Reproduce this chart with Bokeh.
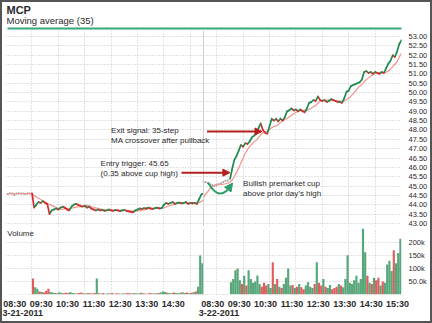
import numpy as np
import pandas as pd
from bokeh.plotting import figure
from bokeh.layouts import column
from bokeh.models import (Range1d, FixedTicker, LinearAxis, Label, Span, Arrow,
                          NormalHead, NumeralTickFormatter)
from bokeh.embed import file_html
from bokeh.resources import INLINE

# ---------------- data ----------------
symbol = "MCP"
study = "Moving average (35)"
dates = ["3-21-2011", "3-22-2011"]
day1_hour_labels = ["08:30", "09:30", "10:30", "11:30", "12:30", "13:30", "14:30"]
day2_hour_labels = ["08:30", "09:30", "10:30", "11:30", "12:30", "13:30", "14:30", "15:30"]
price_ticks = [43.0, 43.5, 44.0, 44.5, 45.0, 45.5, 46.0, 46.5, 47.0, 47.5, 48.0,
               48.5, 49.0, 49.5, 50.0, 50.5, 51.0, 51.5, 52.0, 52.5, 53.0]
volume_ticks = [50, 100, 150, 200]                    # thousands of shares
volume_tick_labels = ["50.0k", "100k", "150k", "200k"]
ma_window = 7                                         # 35 minutes of 5-minute bars

# pre-market prices (5-minute steps)
pre1_price = [44.58, 44.62, 44.60, 44.52, 44.60, 44.62, 44.60, 44.60, 44.58, 44.62, 44.60]
pre2_price = [45.22, 45.20, 45.15, 45.10, 45.05, 45.02, 45.05, 45.10, 45.15, 45.22, 45.28, 45.30]
pre1_vol = [1, 1, 2, 1, 1, 1, 2, 1, 1, 1, 2]
pre2_vol = [2, 1, 2, 1, 2, 1, 1, 2, 1, 2, 1, 2]

# session: first print at 09:30, then 5-minute closes to 16:00
day1_price = [44.65,
              43.85, 44.00, 44.15, 44.10, 44.20, 44.10, 44.05, 43.50, 43.70, 43.75,
              43.80, 43.75, 43.85, 43.90, 43.85, 43.75, 43.70, 43.90, 44.00, 44.05,
              44.00, 43.95, 43.90, 43.95, 43.85, 43.90, 43.80, 43.75, 43.70, 43.75,
              43.70, 43.72, 43.68, 43.70, 43.75, 43.70, 43.68, 43.72, 43.70, 43.66,
              43.70, 43.72, 43.68, 43.65, 43.62, 43.60, 43.70, 43.75, 43.80, 43.78,
              43.82, 43.80, 43.85, 43.80, 43.78, 43.82, 43.85, 43.80, 43.82, 44.00,
              44.10, 44.05, 44.10, 44.15, 44.05, 44.10, 44.12, 44.08, 44.10, 44.15,
              44.05, 44.10, 44.08, 44.10, 44.05, 44.30, 44.55, 44.60]
day2_price = [45.35,
              45.90, 46.40, 46.60, 46.90, 47.20, 47.10, 47.30, 47.25, 47.40, 47.60,
              47.70, 47.80, 48.10, 48.35, 48.00, 47.85, 47.80, 48.20, 48.60, 48.50,
              48.60, 48.45, 48.60, 48.50, 48.70, 49.00, 49.05, 49.15, 49.05, 49.10,
              49.00, 49.10, 49.00, 48.95, 49.15, 49.45, 49.50, 49.60, 49.55, 49.80,
              49.60, 49.55, 49.60, 49.50, 49.55, 49.65, 49.60, 49.55, 49.50, 49.50,
              49.45, 49.70, 50.05, 50.10, 50.35, 50.40, 50.45, 50.50, 50.55, 50.70,
              51.10, 51.15, 51.05, 51.10, 51.00, 51.10, 51.05, 51.00, 51.10, 51.05,
              51.30, 51.55, 51.70, 52.00, 51.90, 52.20, 52.60, 52.80]
day1_vol = [62, 28, 22, 12, 10, 8, 14, 22, 10, 8, 6, 5, 9, 6, 5, 7, 6, 10, 6, 5,
            4, 6, 8, 5, 4, 6, 5, 4, 6, 62, 5, 4, 6, 3, 5, 4, 6, 3, 5, 4,
            3, 5, 4, 6, 5, 4, 6, 5, 4, 7, 5, 4, 3, 6, 5, 4, 5, 6, 8, 12,
            10, 7, 6, 5, 8, 6, 5, 7, 9, 6, 8, 5, 7, 9, 12, 30, 150, 120]
day2_vol = [47, 60, 93, 100, 55, 40, 72, 35, 93, 60, 45, 50, 73, 40, 30, 45, 35, 40, 25, 124,
            40, 60, 30, 25, 40, 64, 100, 35, 37, 25, 30, 40, 28, 20, 35, 47, 30, 25, 40, 124,
            45, 35, 60, 30, 25, 37, 20, 25, 30, 40, 35, 28, 60, 151, 45, 40, 55, 72, 45, 60,
            256, 163, 72, 45, 40, 64, 55, 64, 35, 50, 45, 115, 130, 90, 170, 120, 160, 215]

# ---------------- styling ----------------
FONT = "'Liberation Sans Narrow', 'Arial Narrow', 'Liberation Sans', Arial, sans-serif"
GREEN = "#1f8a4f"
RED = "#d42a2a"
MA_COLOR = "#f2948c"
GRID = "#c4c4c4"
TXT = "#2a2a2a"

# x is minutes since 08:30 on day 1; each day shows 08:30-16:00 (450 min)
DAY = 450
pre1_t = 5 + 5 * np.arange(len(pre1_price))
pre2_t = DAY + 5 * np.arange(len(pre2_price))
d1_t = 60 + 5 * np.arange(len(day1_price))
d2_t = DAY + 60 + 5 * np.arange(len(day2_price))

W = 428
LB, RB = 3, 28          # left / right borders shared by all panels (frames align)

# ---------------- header ----------------
# x range in page pixels of the (aligned) frame: page 5 .. 402
p0 = figure(width=W, height=28, x_range=Range1d(5, 402), y_range=Range1d(0, 28), title=None,
            output_backend="svg", toolbar_location=None,
            min_border_left=LB, min_border_right=RB, min_border_top=0, min_border_bottom=0,
            x_axis_location=None, y_axis_location=None)
p0.grid.visible = False
p0.outline_line_color = None
p0.add_layout(Label(x=6, y=27, text=symbol, text_font=FONT, text_font_size="11px",
                    text_font_style="bold", text_color=TXT, text_baseline="top"))
p0.add_layout(Label(x=6, y=15.5, text=study, text_font=FONT, text_font_size="9.5px",
                    text_color=TXT, text_baseline="top"))
p0.add_layout(Arrow(x_start=7, y_start=2, x_end=418, y_end=2, start=None, end=None,
                    line_color="#3aa77a", line_width=2))

# ---------------- price panel ----------------
p1 = figure(width=W, height=198, x_range=Range1d(0, 2 * DAY), y_range=Range1d(42.84, 53.32),
            title=None, y_axis_location="right", x_axis_location=None,
            output_backend="svg", toolbar_location=None,
            min_border_left=LB, min_border_right=RB, min_border_top=0, min_border_bottom=2)
p1.outline_line_color = None
grid_ticks = [60 * i for i in range(16)]
p1.xgrid.ticker = FixedTicker(ticks=grid_ticks)
p1.ygrid.ticker = FixedTicker(ticks=price_ticks)
for g in (p1.xgrid, p1.ygrid):
    g.grid_line_color = GRID
    g.grid_line_dash = "1 2"
p1.add_layout(Span(location=DAY, dimension="height", line_color="#d0d0d0", line_width=1))

ya = p1.yaxis[0]
ya.ticker = FixedTicker(ticks=price_ticks)
ya.formatter = NumeralTickFormatter(format="0.00")
ya.axis_line_color = None
ya.major_tick_line_color = None
ya.minor_tick_line_color = None
ya.major_label_standoff = 1
ya.major_label_text_font = FONT
ya.major_label_text_font_size = "7.5px"
ya.major_label_text_color = TXT

# pre-market prints
p1.scatter(np.concatenate([pre1_t, pre2_t]), pre1_price + pre2_price,
           size=2, color="#9a9a9a", line_color=None)

# moving average over all prints
all_t = np.concatenate([pre1_t, d1_t, pre2_t, d2_t])
all_p = pd.Series(pre1_price + day1_price + pre2_price + day2_price, dtype=float)
ma = all_p.rolling(ma_window, min_periods=1).mean()
p1.line(all_t, ma, line_color=MA_COLOR, line_width=1.2)

# price bars as up/down strokes
for t, pr in ((d1_t, day1_price), (d2_t, day2_price)):
    pr = np.asarray(pr)
    col = np.where(pr[1:] >= pr[:-1], GREEN, RED)
    p1.segment(x0=t[:-1], y0=pr[:-1], x1=t[1:], y1=pr[1:], line_color=col, line_width=1.7)
    p1.segment(x0=t[1:], y0=pr[1:] - 0.05, x1=t[1:], y1=pr[1:] + 0.05, line_color=col, line_width=1.2)

# annotations
ANN = "#b3201f"
p1.add_layout(Arrow(x_start=458, y_start=47.92, x_end=583, y_end=47.92,
                    line_color=ANN, line_width=2,
                    end=NormalHead(size=7, fill_color=ANN, line_color=ANN)))
p1.add_layout(Arrow(x_start=400, y_start=45.72, x_end=510, y_end=45.72,
                    line_color=ANN, line_width=2,
                    end=NormalHead(size=7, fill_color=ANN, line_color=ANN)))
CUP = "#2f9e6c"
p1.quadratic(x0=[460], y0=[45.19], x1=[514], y1=[45.09], cx=[487], cy=[44.07],
             line_color=CUP, line_width=2)
p1.add_layout(Arrow(x_start=511, y_start=45.0, x_end=516, y_end=45.16,
                    line_color=CUP, line_width=1, line_alpha=0,
                    end=NormalHead(size=8, fill_color=CUP, line_color=CUP)))

def note(x, y, s):
    p1.add_layout(Label(x=x, y=y, text=s, text_font=FONT, text_font_size="8px",
                        text_color=TXT, text_baseline="middle"))

note(240, 47.97, "Exit signal: 35-step")
note(240, 47.44, "MA crossover after pullback")
note(216, 46.21, "Entry trigger: 45.65")
note(216, 45.67, "(0.35 above cup high)")
note(540, 45.14, "Bullish premarket cup")
note(540, 44.60, "above prior day\u2019s high")

# ---------------- volume panel ----------------
p2 = figure(width=W, height=93, x_range=p1.x_range, y_range=Range1d(0, 254), title=None,
            y_axis_location="right", x_axis_location=None,
            output_backend="svg", toolbar_location=None,
            min_border_left=LB, min_border_right=RB, min_border_top=0, min_border_bottom=27)
p2.outline_line_color = None
p2.xgrid.ticker = FixedTicker(ticks=grid_ticks)
p2.ygrid.ticker = FixedTicker(ticks=volume_ticks)
for g in (p2.xgrid, p2.ygrid):
    g.grid_line_color = GRID
    g.grid_line_dash = "1 2"
p2.add_layout(Span(location=DAY, dimension="height", line_color="#d0d0d0", line_width=1))

vx, vh, vc = [], [], []
for t, pr, vol in ((d1_t, day1_price, day1_vol), (d2_t, day2_price, day2_vol)):
    pr = np.asarray(pr)
    vx.extend(list(t[1:] - 2.5))
    vh.extend(vol)
    vc.extend(list(np.where(pr[1:] >= pr[:-1], GREEN, RED)))
p2.vbar(x=np.concatenate([pre1_t, pre2_t]), top=pre1_vol + pre2_vol, width=3.5,
        color="#777777", line_color=None)
p2.vbar(x=vx, top=vh, width=4.9, fill_color=vc, fill_alpha=0.75, line_color=None)

p2.add_layout(Label(x=4, y=253, text="Volume", text_font=FONT, text_font_size="8px",
                    text_color=TXT, text_baseline="top"))
va = p2.yaxis[0]
va.ticker = FixedTicker(ticks=volume_ticks)
va.major_label_overrides = {t: s for t, s in zip(volume_ticks, volume_tick_labels)}
va.axis_line_color = None
va.major_tick_line_color = None
va.minor_tick_line_color = None
va.major_label_standoff = 1
va.major_label_text_font = FONT
va.major_label_text_font_size = "7.5px"
va.major_label_text_color = TXT

# time labels (centred a little right of each hour mark) and date labels
hour_label_pos = [21 + 60 * i for i in range(len(day1_hour_labels))] + \
                 [DAY + 21 + 60 * i for i in range(len(day2_hour_labels))]
hour_labels = day1_hour_labels + day2_hour_labels
ta = LinearAxis(ticker=FixedTicker(ticks=hour_label_pos),
                major_label_overrides={p: s for p, s in zip(hour_label_pos, hour_labels)})
date_pos = [34, DAY + 35]
da = LinearAxis(ticker=FixedTicker(ticks=date_pos),
                major_label_overrides={p: s for p, s in zip(date_pos, dates)})
for ax in (ta, da):
    ax.axis_line_color = None
    ax.major_tick_line_color = None
    ax.minor_tick_line_color = None
    ax.major_tick_out = 0
    ax.major_tick_in = 0
    ax.major_label_text_font = FONT
    ax.major_label_text_font_size = "9px"
    ax.major_label_text_font_style = "bold"
    ax.major_label_text_color = TXT
ta.major_label_standoff = 4
da.major_label_standoff = -2
p2.add_layout(ta, "below")
p2.add_layout(da, "below")

layout = column(p0, p1, p2, spacing=0,
                styles={"border": "2px solid #555555", "width": "432px", "height": "323px",
                        "box-sizing": "border-box"})

with open("out.html", "w") as f:
    f.write(file_html(layout, INLINE))
